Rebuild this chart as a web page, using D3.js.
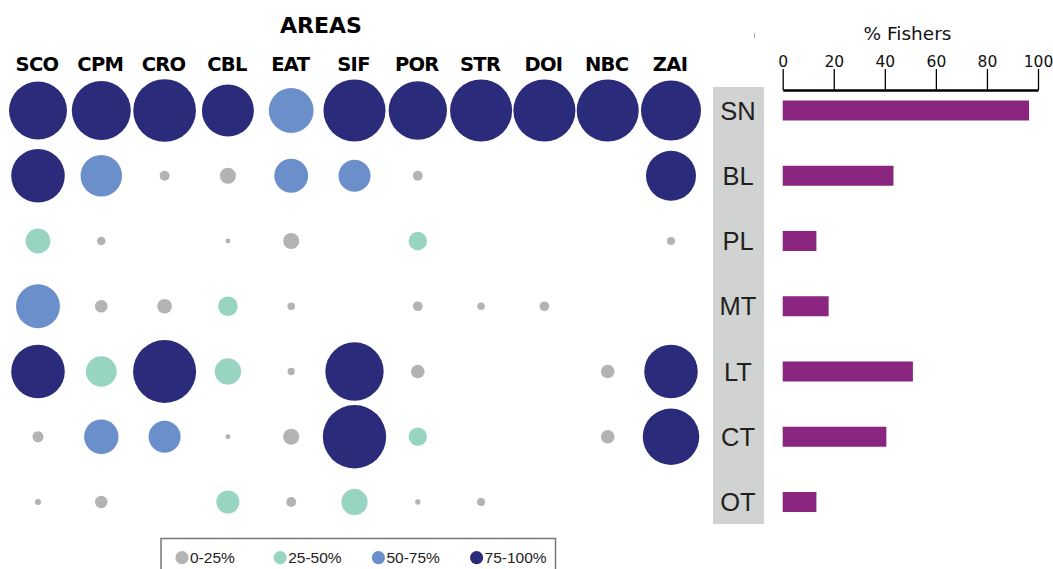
<!DOCTYPE html>
<html>
<head>
<meta charset="utf-8">
<script src="https://d3js.org/d3.v7.min.js"></script>
<style>
  body { margin: 0; background: #fff; }
  svg { display: block; }
</style>
</head>
<body>
<script>
// areas (columns) and fisher types (rows)
const areas = ['SCO','CPM','CRO','CBL','EAT','SIF','POR','STR','DOI','NBC','ZAI'];
const types = ['SN','BL','PL','MT','LT','CT','OT'];

// bubble size per type x area (null = no bubble)
const sizeSN = [82, 85, 96, 66, 49, 94, 83, 94, 94, 94, 88];
const sizeBL = [70, 42, 2.4, 6.3, 28, 25, 2.4, null, null, null, 61];
const sizePL = [15, 1.8, null, 0.6, 6.3, null, 8.3, null, null, null, 1.6];
const sizeMT = [47, 3.9, 5.3, 9.4, 1.4, null, 2.3, 1.4, 2.3, null, null];
const sizeLT = [70, 23, 97, 17, 1.3, 83, 4.5, null, null, 4.5, 70];
const sizeCT = [3, 29, 25, 0.6, 6.3, 98, 8.3, null, null, 4.5, 78];
const sizeOT = [0.9, 3.8, null, 13, 2.4, 17, 0.7, 1.6, null, null, null];

// percentage class per bubble: 0 = 0-25%, 1 = 25-50%, 2 = 50-75%, 3 = 75-100%
const classSN = [3, 3, 3, 3, 2, 3, 3, 3, 3, 3, 3];
const classBL = [3, 2, 0, 0, 2, 2, 0, null, null, null, 3];
const classPL = [1, 0, null, 0, 0, null, 1, null, null, null, 0];
const classMT = [2, 0, 0, 1, 0, null, 0, 0, 0, null, null];
const classLT = [3, 1, 3, 1, 0, 3, 0, null, null, 0, 3];
const classCT = [0, 2, 2, 0, 0, 3, 1, null, null, 0, 3];
const classOT = [0, 0, null, 1, 0, 1, 0, 0, null, null, null];

const classLabels = ['0-25%', '25-50%', '50-75%', '75-100%'];

// % fishers per type
const fishers = [96.5, 43.4, 13.2, 18, 51, 40.6, 13.2];
const fisherTicks = [0, 20, 40, 60, 80, 100];

const sizes = [sizeSN, sizeBL, sizePL, sizeMT, sizeLT, sizeCT, sizeOT];
const classes = [classSN, classBL, classPL, classMT, classLT, classCT, classOT];

const W = 1053, H = 569;
const colors = ['#b3b3b3', '#98d4c2', '#6a8fca', '#2b2b7b'];

const svg = d3.select('body').append('svg')
  .attr('width', W)
  .attr('height', H);

const x = d3.scalePoint().domain(areas).range([38, 671]);
const y = d3.scalePoint().domain(types).range([110.5, 502]);
const r = d3.scaleSqrt().domain([0, 100]).range([0, 32]);
const col = d3.scaleOrdinal().domain([0, 1, 2, 3]).range(colors);

// title and column labels
svg.append('text')
  .attr('x', 321).attr('y', 32.5)
  .attr('text-anchor', 'middle')
  .style('font-family', 'DejaVu Sans, sans-serif')
  .style('font-weight', 'bold')
  .style('font-size', '22px')
  .text('AREAS');

svg.selectAll('text.area')
  .data(areas)
  .enter()
  .append('text')
  .attr('class', 'area')
  .attr('x', d => x(d) - 1)
  .attr('y', 71)
  .attr('text-anchor', 'middle')
  .style('font-family', 'DejaVu Sans, sans-serif')
  .style('font-weight', 'bold')
  .style('font-size', '19.5px')
  .style('letter-spacing', '-0.7px')
  .text(d => d);

// bubbles
const cells = [];
types.forEach((t, i) => {
  areas.forEach((a, j) => {
    if (sizes[i][j] != null) cells.push({ t: t, a: a, v: sizes[i][j], c: classes[i][j] });
  });
});

svg.selectAll('circle.cell')
  .data(cells)
  .enter()
  .append('circle')
  .attr('class', 'cell')
  .attr('cx', d => x(d.a))
  .attr('cy', d => y(d.t))
  .attr('r', d => r(d.v))
  .attr('fill', d => col(d.c));

// grey band with type labels
svg.append('rect')
  .attr('x', 713).attr('y', 87)
  .attr('width', 51).attr('height', 437)
  .attr('fill', '#d1d2d2');

svg.selectAll('text.type')
  .data(types)
  .enter()
  .append('text')
  .attr('class', 'type')
  .attr('x', 738)
  .attr('y', d => y(d))
  .attr('dy', '0.36em')
  .attr('text-anchor', 'middle')
  .style('font-family', 'Liberation Sans, Arial, sans-serif')
  .style('font-size', '25.5px')
  .style('fill', '#231f20')
  .text(d => d);

// small stray mark above the band
svg.append('line')
  .attr('x1', 754.5).attr('x2', 754.5)
  .attr('y1', 33).attr('y2', 38)
  .attr('stroke', '#aaa').attr('stroke-width', 1);

// bar chart
const xb = d3.scaleLinear().domain([0, 100]).range([782.7, 1038]);

const axis = d3.axisTop(xb)
  .tickValues(fisherTicks)
  .tickSize(21)
  .tickSizeOuter(0)
  .tickPadding(2);

const gAxis = svg.append('g')
  .attr('transform', 'translate(0,90)')
  .call(axis);
gAxis.select('.domain').attr('stroke', '#000').attr('stroke-width', 2.6);
gAxis.selectAll('.tick line').attr('stroke', '#000').attr('stroke-width', 1.3);
gAxis.selectAll('.tick text')
  .style('font-family', 'DejaVu Sans, sans-serif')
  .style('font-size', '15.5px')
  .attr('fill', '#111');

svg.append('text')
  .attr('x', 907.5).attr('y', 39.5)
  .attr('text-anchor', 'middle')
  .style('font-family', 'DejaVu Sans, sans-serif')
  .style('font-size', '18.5px')
  .style('fill', '#111')
  .text('% Fishers');

svg.selectAll('rect.bar')
  .data(fishers)
  .enter()
  .append('rect')
  .attr('class', 'bar')
  .attr('x', xb(0))
  .attr('y', (d, i) => y(types[i]) - 10)
  .attr('width', d => xb(d) - xb(0))
  .attr('height', 20)
  .attr('fill', '#8a267f');

// legend
svg.append('rect')
  .attr('x', 161).attr('y', 538.5)
  .attr('width', 394.5).attr('height', 40)
  .attr('fill', 'none')
  .attr('stroke', '#777')
  .attr('stroke-width', 1.5);

const leg = svg.selectAll('g.leg')
  .data(classLabels)
  .enter()
  .append('g')
  .attr('class', 'leg')
  .attr('transform', (d, i) => `translate(${182 + i * 98.2},557.7)`);

leg.append('circle')
  .attr('r', 6.6)
  .attr('fill', (d, i) => colors[i]);

leg.append('text')
  .attr('x', 8)
  .attr('dy', '0.36em')
  .style('font-family', 'Liberation Sans, Arial, sans-serif')
  .style('font-size', '15.5px')
  .style('fill', '#222')
  .text(d => d);
</script>
</body>
</html>
